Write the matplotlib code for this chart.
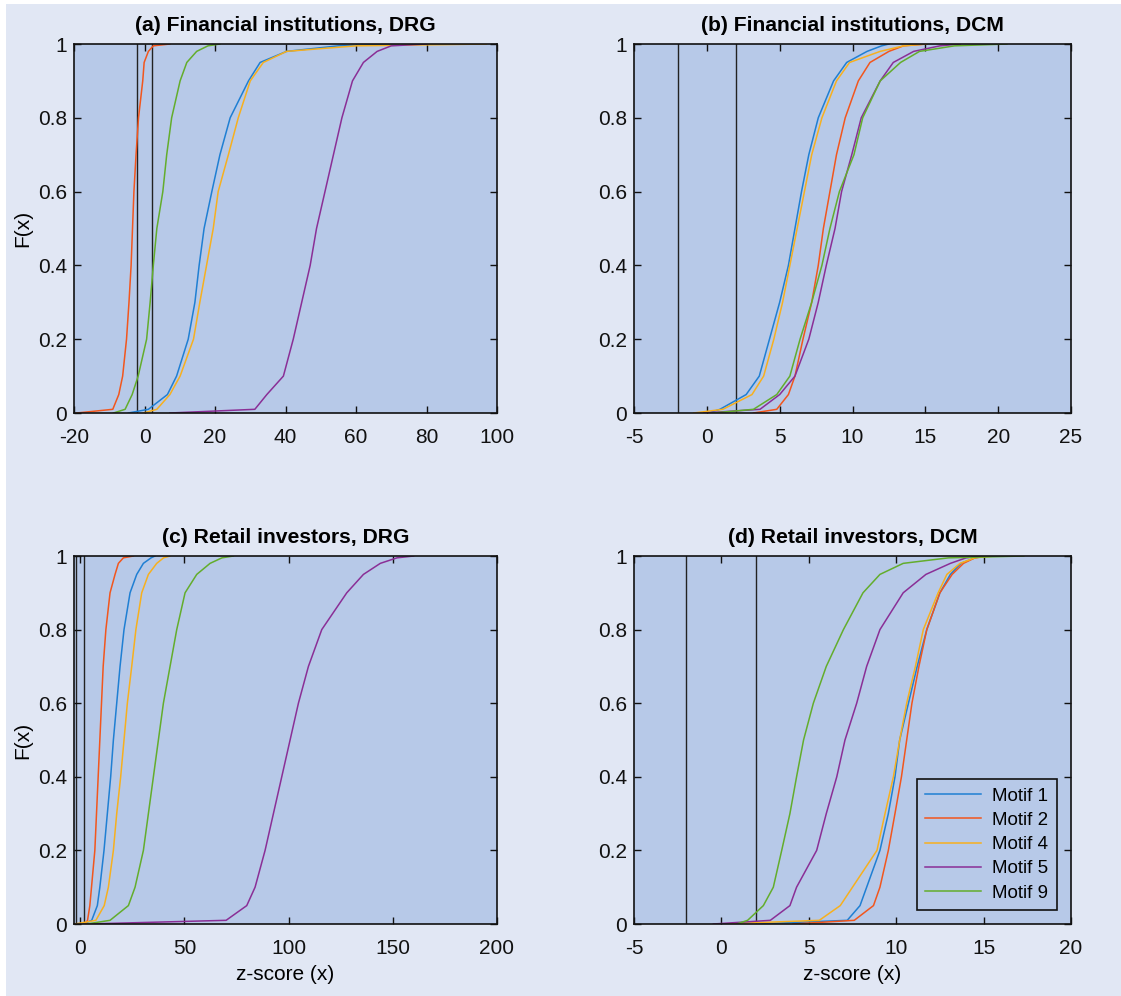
import matplotlib.pyplot as plt
from matplotlib.patches import Rectangle

plt.rcParams['font.family'] = ['Liberation Sans', 'DejaVu Sans']

# niveis de F(x), comuns a todas as curvas
f_niveis = [0, 0.01, 0.05, 0.1, 0.2, 0.3, 0.4, 0.5, 0.6, 0.7, 0.8, 0.9,
            0.95, 0.98, 0.995, 1.0]

motivos = ['Motif 1', 'Motif 2', 'Motif 4', 'Motif 5', 'Motif 9']
cores = ['#1f7fd3', '#f2561d', '#f7b01e', '#8a2f96', '#63ad2c']

# (a) Financial institutions, DRG
a_m1 = [-4.6, 1.1, 6.5, 9.1, 12.4, 14.3, 15.5, 16.9, 19.1, 21.4, 24.3, 29.5, 32.8, 40.3, 55, 72]
a_m2 = [-19.2, -9.0, -7.3, -6.2, -5.1, -4.4, -3.8, -3.4, -3.0, -2.4, -1.7, -0.5, -0.1, 1.1, 2.5, 7.2]
a_m4 = [-0.3, 3.5, 7.2, 10.1, 13.9, 15.7, 17.6, 19.5, 20.9, 23.8, 26.6, 30.0, 33.7, 40.3, 60, 97]
a_m5 = [7.2, 31.3, 34.7, 39.4, 42.2, 44.6, 47.0, 48.8, 51.2, 53.6, 56.0, 59.0, 62.1, 66, 70, 80]
a_m9 = [-8.8, -5.5, -3.5, -1.8, 0.6, 1.6, 2.5, 3.5, 5.2, 6.3, 7.7, 10.1, 12.0, 14.8, 18, 21.4]

# (b) Financial institutions, DCM
b_m1 = [0.1, 0.9, 2.7, 3.6, 4.3, 5.0, 5.6, 6.05, 6.5, 7.0, 7.65, 8.7, 9.6, 11.0, 12, 12.5]
b_m2 = [3.2, 4.8, 5.6, 6.05, 6.6, 7.2, 7.65, 8.0, 8.45, 8.9, 9.5, 10.4, 11.2, 12.5, 13.5, 15.1]
b_m4 = [-0.9, 1.1, 3.1, 3.9, 4.6, 5.2, 5.7, 6.2, 6.7, 7.2, 7.9, 8.9, 9.8, 11.9, 13.5, 15.1]
b_m5 = [-0.2, 3.65, 5.0, 6.05, 7.0, 7.65, 8.2, 8.8, 9.25, 9.95, 10.6, 11.9, 12.8, 14.2, 16, 17.4]
b_m9 = [0.45, 3.2, 4.8, 5.7, 6.4, 7.2, 7.9, 8.45, 9.1, 10.1, 10.7, 11.9, 13.3, 14.6, 17, 20.6]

# (c) Retail investors, DRG
c_m1 = [1.4, 5.5, 8.2, 9.4, 11.4, 13.0, 14.6, 15.9, 17.5, 19.1, 21.0, 23.9, 27.1, 30.3, 34, 35.9]
c_m2 = [2.2, 3.5, 4.6, 5.4, 7.0, 7.8, 8.6, 9.4, 10.2, 11.0, 12.3, 14.3, 16.7, 18.3, 20.7, 25.5]
c_m4 = [-2.6, 7.5, 11.5, 13.5, 15.9, 17.5, 19.4, 21.0, 22.6, 24.7, 26.7, 29.5, 32.7, 36.7, 40, 43.1]
c_m5 = [3.0, 70, 79.9, 83.9, 88.7, 92.7, 96.7, 100.7, 104.7, 109.5, 115.9, 127.9, 135.9, 144.0, 152, 160]
c_m9 = [3.0, 14.3, 23.1, 26.3, 30.3, 32.7, 35.1, 37.5, 39.9, 43.1, 46.3, 50.3, 55.9, 62.3, 68, 73.5]

# (d) Retail investors, DCM
d_m1 = [2.0, 7.2, 7.93, 8.31, 9.07, 9.55, 9.93, 10.2, 10.7, 11.2, 11.75, 12.5, 13.1, 13.7, 14.5, 15.2]
d_m2 = [4.1, 7.6, 8.7, 9.07, 9.55, 9.93, 10.3, 10.6, 10.9, 11.3, 11.75, 12.5, 13.2, 13.85, 14.5, 15.2]
d_m4 = [-0.08, 5.6, 6.8, 7.5, 8.9, 9.36, 9.84, 10.2, 10.6, 11.1, 11.55, 12.4, 12.9, 13.65, 14.5, 15.6]
d_m5 = [-0.46, 2.8, 3.92, 4.3, 5.45, 6.0, 6.6, 7.07, 7.74, 8.31, 9.07, 10.4, 11.7, 13.1, 14, 14.8]
d_m9 = [0.87, 1.5, 2.4, 2.97, 3.45, 3.92, 4.3, 4.7, 5.26, 6.0, 6.98, 8.1, 9.07, 10.4, 13, 17.3]

titulos = ['(a) Financial institutions, DRG', '(b) Financial institutions, DCM',
           '(c) Retail investors, DRG', '(d) Retail investors, DCM']
series = [[a_m1, a_m2, a_m4, a_m5, a_m9],
          [b_m1, b_m2, b_m4, b_m5, b_m9],
          [c_m1, c_m2, c_m4, c_m5, c_m9],
          [d_m1, d_m2, d_m4, d_m5, d_m9]]
limites_x = [(-20, 100), (-5, 25), (-3, 200), (-5, 20)]
ticks_x = [[-20, 0, 20, 40, 60, 80, 100], [-5, 0, 5, 10, 15, 20, 25],
           [0, 50, 100, 150, 200], [-5, 0, 5, 10, 15, 20]]
limiares = [-2, 2]

W, H = 1121, 996
fig = plt.figure(figsize=(W / 100, H / 100), dpi=100, facecolor='white')
fig.patches.append(Rectangle((6 / W, 0), 1, 1 - 4 / H, transform=fig.transFigure,
                             facecolor='#e1e7f4', edgecolor='none', zorder=-10))

# caixas dos eixos em pixels: esquerda, topo, direita, base
caixas = [(74, 44, 497, 413), (634, 44, 1071, 413),
          (74, 556, 497, 924), (634, 556, 1071, 924)]

for i, (x0, y0, x1, y1) in enumerate(caixas):
    ax = fig.add_axes([x0 / W, 1 - y1 / H, (x1 - x0) / W, (y1 - y0) / H])
    ax.set_facecolor('#b7c9e8')
    for xv in limiares:
        ax.axvline(xv, color='#222222', lw=1.0, zorder=1)
    for j, xs in enumerate(series[i]):
        ax.plot(xs, f_niveis, color=cores[j], lw=1.1, label=motivos[j], zorder=2)
    ax.set_xlim(*limites_x[i])
    ax.set_ylim(0, 1)
    ax.set_xticks(ticks_x[i])
    ax.set_xticklabels([str(t) for t in ticks_x[i]])
    ax.set_yticks([0, 0.2, 0.4, 0.6, 0.8, 1])
    ax.set_yticklabels(['0', '0.2', '0.4', '0.6', '0.8', '1'])
    ax.tick_params(direction='in', top=True, right=True, length=5, width=1,
                   labelsize=15, colors='#111111')
    ax.tick_params(axis='x', pad=11)
    ax.tick_params(axis='y', pad=5)
    for sp in ax.spines.values():
        sp.set_linewidth(1.2)
        sp.set_color('#111111')
    ax.set_title(titulos[i], fontsize=15.2, fontweight='bold', pad=9.5)
    if i % 2 == 0:
        ax.set_ylabel('F(x)', fontsize=15, labelpad=4)
    if i >= 2:
        ax.set_xlabel('z-score (x)', fontsize=15, labelpad=5)
    if i == 3:
        leg = ax.legend(loc='lower right', bbox_to_anchor=(0.968, 0.038), fontsize=13.5,
                        frameon=True, fancybox=False, handlelength=3.0,
                        labelspacing=0.38, borderpad=0.45, handletextpad=0.6,
                        borderaxespad=0)
        leg.get_frame().set_facecolor('#b7c9e8')
        leg.get_frame().set_edgecolor('#111111')
        leg.get_frame().set_linewidth(1.2)
        leg.get_frame().set_alpha(1)

fig.savefig('out.png', dpi=100, facecolor=fig.get_facecolor())
